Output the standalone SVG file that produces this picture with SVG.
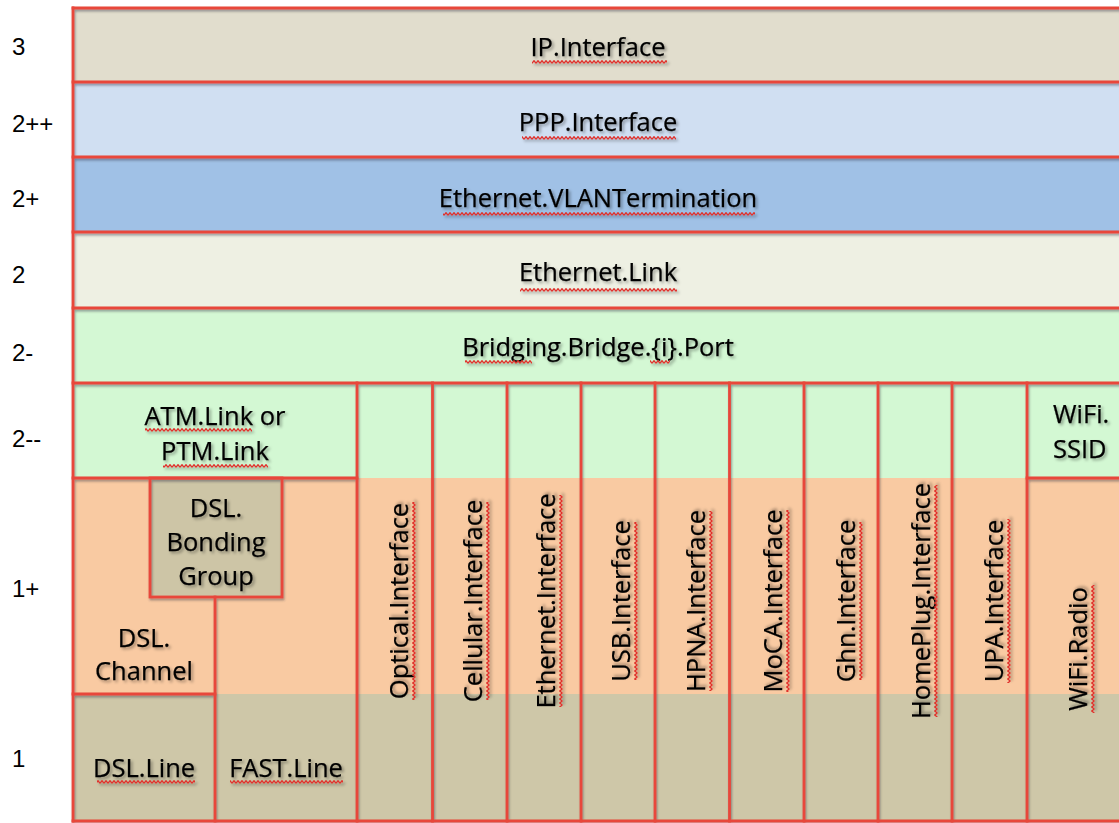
<svg xmlns="http://www.w3.org/2000/svg" width="1119" height="823" viewBox="0 0 1119 823">
<defs>
<style>
.lbl{font-family:"Liberation Sans",Arial,sans-serif;font-size:24px;fill:#000}
.t{font-family:"Open Sans","Liberation Sans",sans-serif;font-size:25.5px;fill:#000;text-anchor:middle;stroke:#000;stroke-width:0.25}
.tl{font-family:"Open Sans","Liberation Sans",sans-serif;font-size:25.5px;fill:#000;stroke:#000;stroke-width:0.25}
.frame{stroke:#e8473a;stroke-width:2.8;fill:none;stroke-linecap:square}
.wave{fill:url(#wave)}
</style>
<pattern id="wave" patternUnits="userSpaceOnUse" width="4" height="4">
<polyline points="0,3.3 2,0.7 4,3.3" fill="none" stroke="#e0302a" stroke-width="1.3"/>
</pattern>
<filter id="tsh" x="-10%" y="-30%" width="120%" height="160%">
<feDropShadow dx="2" dy="2" stdDeviation="1.5" flood-color="#000" flood-opacity="0.35"/>
</filter>
<filter id="lsh" x="-5%" y="-5%" width="110%" height="110%">
<feDropShadow dx="1" dy="2" stdDeviation="1.3" flood-color="#334" flood-opacity="0.45"/>
</filter>
</defs>
<rect x="0" y="0" width="1119" height="823" fill="#fff"/>

<g id="layer-labels">
<text class="lbl" x="12" y="55">3</text>
<text class="lbl" x="12" y="132">2++</text>
<text class="lbl" x="12" y="207">2+</text>
<text class="lbl" x="12" y="283">2</text>
<text class="lbl" x="12" y="361">2-</text>
<text class="lbl" x="12" y="447">2--</text>
<text class="lbl" x="12" y="597">1+</text>
<text class="lbl" x="12" y="767">1</text>
</g>

<g id="bands">
<rect x="73" y="383" width="1052" height="95" fill="#d3f8d3"/>
<rect x="73" y="478" width="1052" height="216" fill="#f9caa2"/>
<rect x="73" y="694" width="1052" height="127" fill="#cec7a8"/>
</g>

<g id="ip-interface">
<rect x="73" y="8" width="1052" height="74" fill="#e1ddcd"/>
<g filter="url(#tsh)"><text class="t" x="598" y="56">IP.Interface</text><rect class="wave" x="532" y="60" width="135" height="4"/></g>
</g>
<g id="ppp-interface">
<rect x="73" y="82" width="1052" height="75" fill="#d0dff2"/>
<g filter="url(#tsh)"><text class="t" x="598" y="131">PPP.Interface</text><rect class="wave" x="522" y="136" width="154" height="4"/></g>
</g>
<g id="ethernet-vlantermination">
<rect x="73" y="157" width="1052" height="75" fill="#a0c1e6"/>
<g filter="url(#tsh)"><text class="t" x="598" y="207">Ethernet.VLANTermination</text><rect class="wave" x="443" y="212" width="312" height="4"/></g>
</g>
<g id="ethernet-link">
<rect x="73" y="232" width="1052" height="76" fill="#eef0e3"/>
<g filter="url(#tsh)"><text class="t" x="598" y="281">Ethernet.Link</text><rect class="wave" x="520" y="288" width="157" height="4"/></g>
</g>
<g id="bridging-port">
<rect x="73" y="308" width="1052" height="75" fill="#d4f8d4"/>
<g filter="url(#tsh)"><text class="t" x="598" y="356">Bridging.Bridge.{i}.Port</text><rect class="wave" x="465" y="360" width="67" height="4"/><rect class="wave" x="650" y="360" width="20" height="4"/></g>
</g>

<g id="atm-ptm-link">
<rect x="73" y="383" width="284" height="95" fill="#d3f8d3"/>
<g filter="url(#tsh)">
<text class="t" x="215" y="425">ATM.Link or</text><rect class="wave" x="145" y="428" width="107" height="4"/>
<text class="t" x="215" y="460">PTM.Link</text><rect class="wave" x="163" y="464" width="105" height="4"/>
</g>
</g>
<g id="dsl-bonding-group">
<rect x="150" y="478" width="132" height="119" fill="#cdc5a6"/>
<g filter="url(#tsh)">
<text class="t" x="216" y="517">DSL.</text>
<text class="t" x="216" y="551">Bonding</text>
<text class="t" x="216" y="585">Group</text>
</g>
</g>
<g id="dsl-channel">
<rect x="73" y="597" width="142" height="97" fill="#f9caa2"/>
<g filter="url(#tsh)">
<text class="t" x="144" y="647">DSL.</text>
<text class="t" x="144" y="680">Channel</text>
</g>
</g>
<g id="dsl-line">
<rect x="73" y="694" width="142" height="127" fill="#cec7a8"/>
<g filter="url(#tsh)"><text class="t" x="144" y="777">DSL.Line</text><rect class="wave" x="97" y="780" width="98" height="4"/></g>
</g>
<g id="fast-line">
<rect x="215" y="597" width="142" height="224" fill="none"/>
<g filter="url(#tsh)"><text class="t" x="286" y="777">FAST.Line</text><rect class="wave" x="230" y="780" width="113" height="4"/></g>
</g>

<g id="optical-interface">
<rect x="357" y="383" width="75.5" height="438" fill="none"/>
<g filter="url(#tsh)" transform="translate(408,601) rotate(-90)"><text class="t" x="0" y="0">Optical.Interface</text><rect class="wave" x="-99" y="4" width="198" height="4"/></g>
</g>
<g id="cellular-interface">
<rect x="432.5" y="383" width="74.5" height="438" fill="none"/>
<g filter="url(#tsh)" transform="translate(482,601) rotate(-90)"><text class="t" x="0" y="0">Cellular.Interface</text><rect class="wave" x="-99" y="4" width="198" height="4"/></g>
</g>
<g id="ethernet-interface">
<rect x="507" y="383" width="74" height="438" fill="none"/>
<g filter="url(#tsh)" transform="translate(555,601) rotate(-90)"><text class="t" x="0" y="0">Ethernet.Interface</text><rect class="wave" x="-106" y="4" width="212" height="4"/></g>
</g>
<g id="usb-interface">
<rect x="581" y="383" width="74" height="438" fill="none"/>
<g filter="url(#tsh)" transform="translate(630,601) rotate(-90)"><text class="t" x="0" y="0">USB.Interface</text><rect class="wave" x="-79" y="4" width="158" height="4"/></g>
</g>
<g id="hpna-interface">
<rect x="655" y="383" width="74.5" height="438" fill="none"/>
<g filter="url(#tsh)" transform="translate(705,601) rotate(-90)"><text class="t" x="0" y="0">HPNA.Interface</text><rect class="wave" x="-90" y="4" width="180" height="4"/></g>
</g>
<g id="moca-interface">
<rect x="729.5" y="383" width="74.5" height="438" fill="none"/>
<g filter="url(#tsh)" transform="translate(782,601) rotate(-90)"><text class="t" x="0" y="0">MoCA.Interface</text><rect class="wave" x="-91" y="4" width="182" height="4"/></g>
</g>
<g id="ghn-interface">
<rect x="804" y="383" width="74" height="438" fill="none"/>
<g filter="url(#tsh)" transform="translate(855,601) rotate(-90)"><text class="t" x="0" y="0">Ghn.Interface</text><rect class="wave" x="-79" y="4" width="158" height="4"/></g>
</g>
<g id="homeplug-interface">
<rect x="878" y="383" width="74" height="438" fill="none"/>
<g filter="url(#tsh)" transform="translate(930,601) rotate(-90)"><text class="t" x="0" y="0">HomePlug.Interface</text><rect class="wave" x="-116" y="4" width="232" height="4"/></g>
</g>
<g id="upa-interface">
<rect x="952" y="383" width="75" height="438" fill="none"/>
<g filter="url(#tsh)" transform="translate(1003,601) rotate(-90)"><text class="t" x="0" y="0">UPA.Interface</text><rect class="wave" x="-82" y="4" width="164" height="4"/></g>
</g>
<g id="wifi-ssid">
<rect x="1027" y="383" width="98" height="95" fill="#d3f8d3"/>
<g filter="url(#tsh)">
<text class="tl" x="1053" y="423">WiFi.</text>
<text class="tl" x="1053" y="458">SSID</text>
</g>
</g>
<g id="wifi-radio">
<rect x="1027" y="478" width="98" height="343" fill="none"/>
<g filter="url(#tsh)" transform="translate(1087,649) rotate(-90)"><text class="t" x="0" y="0">WiFi.Radio</text><rect class="wave" x="-64" y="4" width="128" height="4"/></g>
</g>

<g id="connectors" class="frame" filter="url(#lsh)">
<line x1="73" y1="8" x2="1125" y2="8"/>
<line x1="73" y1="82" x2="1125" y2="82"/>
<line x1="73" y1="157" x2="1125" y2="157"/>
<line x1="73" y1="232" x2="1125" y2="232"/>
<line x1="73" y1="308" x2="1125" y2="308"/>
<line x1="73" y1="383" x2="1125" y2="383"/>
<line x1="73" y1="821" x2="1125" y2="821"/>
<line x1="73" y1="8" x2="73" y2="821"/>
<line x1="73" y1="478" x2="357" y2="478"/>
<line x1="1027" y1="478" x2="1125" y2="478"/>
<line x1="357" y1="383" x2="357" y2="821"/>
<line x1="432.5" y1="383" x2="432.5" y2="821"/>
<line x1="507" y1="383" x2="507" y2="821"/>
<line x1="581" y1="383" x2="581" y2="821"/>
<line x1="655" y1="383" x2="655" y2="821"/>
<line x1="729.5" y1="383" x2="729.5" y2="821"/>
<line x1="804" y1="383" x2="804" y2="821"/>
<line x1="878" y1="383" x2="878" y2="821"/>
<line x1="952" y1="383" x2="952" y2="821"/>
<line x1="1027" y1="383" x2="1027" y2="821"/>
<rect x="150" y="478" width="132" height="119"/>
<line x1="215" y1="597" x2="215" y2="821"/>
<line x1="73" y1="694" x2="215" y2="694"/>
</g>
</svg>
